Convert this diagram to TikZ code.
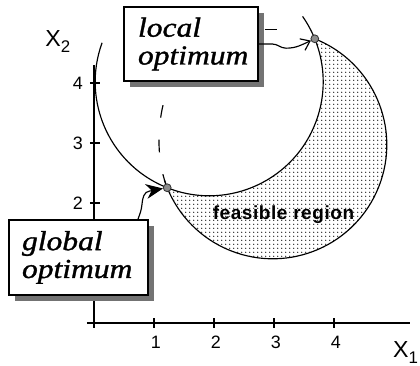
\documentclass[tikz,border=0pt]{standalone}
\usepackage{fontspec}
\setmainfont{Liberation Serif}
\newfontfamily\boxfont[FakeStretch=1.15,FakeBold=1.2]{Liberation Serif}
\newfontfamily\axfont{Liberation Sans}
\newfontfamily\regfont[LetterSpace=3]{Liberation Sans}
\usetikzlibrary{arrows.meta,patterns.meta,shadows}

\tikzdeclarepattern{
  name=fdots,
  type=uncolored,
  bounding box={(0,0) and (2pt,2pt)},
  tile size={(2pt,2pt)},
  code={\fill (1pt,1pt) circle (0.33pt);}
}

\begin{document}
\begin{tikzpicture}[
  axis/.style={line width=0.5pt},
  curve/.style={line width=0.55pt},
  optbox/.style={draw, line width=0.6pt, fill=white, align=left, inner ysep=0pt,
    font=\boxfont\itshape\fontsize{13}{13.2}\selectfont,
    drop shadow={shadow xshift=0.1cm, shadow yshift=-0.1cm, fill=black!55, opacity=1}},
  optpt/.style={circle, draw=black!80, fill=black!45, line width=0.4pt, inner sep=0pt, minimum size=0.13cm},
  ticklab/.style={font=\axfont\fontsize{8.5}{10}\selectfont, inner sep=0pt},
  axlab/.style={font=\axfont\fontsize{11}{12}\selectfont, inner sep=0pt, anchor=base west},
]
\useasboundingbox (-1.5667,-0.7167) rectangle (5.4333,5.3833);

% feasible region
\fill[pattern=fdots, pattern color=black] (3.680,4.737)
  arc[start angle=68.4, end angle=-157.9, radius=1.9]
  arc[start angle=248.4, end angle=382.2, radius=1.9] -- cycle;

% circles
\draw[curve] (1.92,4.02) ++(160:1.9) arc[start angle=160, end angle=395, radius=1.9];
\draw[curve] (2.98,2.97) ++(68.4:1.9) arc[start angle=68.4, end angle=-162, radius=1.9];

% axes
\draw[axis] (0,-0.083) -- (0,4.3);
\draw[axis] (-0.117,0) -- (5.267,0);
\foreach \y in {2,3,4} {
  \draw[axis] (-0.067,\y) -- (0.1,\y);
  \node[ticklab] (ty\y) at (-0.267,\y) {\y};
}
\foreach \x in {1,2,3,4} {
  \draw[axis] (\x,0.083) -- (\x,-0.083);
  \node[ticklab] (tx\x) at (\x+0.03,-0.317) {\x};
}
\node[axlab] (x2lab) at (-0.817,4.6) {X\raisebox{-2.4pt}{\fontsize{8}{8}\selectfont 2}};
\node[axlab] (x1lab) at (4.98,-0.583) {X\raisebox{-2.4pt}{\fontsize{8}{8}\selectfont 1}};

% optimum points
\node[optpt] (Lp) at (3.680,4.737) {};
\node[optpt] (Gp) at (1.220,2.254) {};

% boxes
\node[optbox, inner xsep=0.233cm, text width=1.767cm, minimum height=1.233cm] (localbox) at (1.617,4.65) {local\\optimum};
\node[optbox, inner xsep=0.217cm, text width=1.883cm, minimum height=1.25cm] (globalbox) at (-0.258,1.092) {global\\optimum};

% dashed line
\coordinate (dtop) at (1.15,3.63);
\draw[curve, dash pattern=on 6pt off 10.5pt] (dtop) .. controls (1.05,3.2) and (1.06,2.7) .. (Gp);

% arrows
\draw[curve] ([xshift=0.1cm,yshift=-0.383cm]localbox.north east) -- ++(0.2,0);
\draw[curve, -{Straight Barb[length=4pt,width=6pt]}] (localbox.east) -- (2.97,4.65)
  to[out=0,in=180] (3.2,4.58) to[out=0,in=205] (Lp);
\draw[curve, -{Stealth[length=8pt,width=7pt]}] ([xshift=0.99cm]globalbox.north)
  to[out=70,in=-95] (0.8,1.98) to[out=85,in=185] (0.93,2.2) to[out=5,in=190] (Gp);

% label
\node[font=\regfont\bfseries\fontsize{9}{10}\selectfont, inner sep=1pt] (feas) at (3.158,1.8) {feasible region};
\end{tikzpicture}
\end{document}
